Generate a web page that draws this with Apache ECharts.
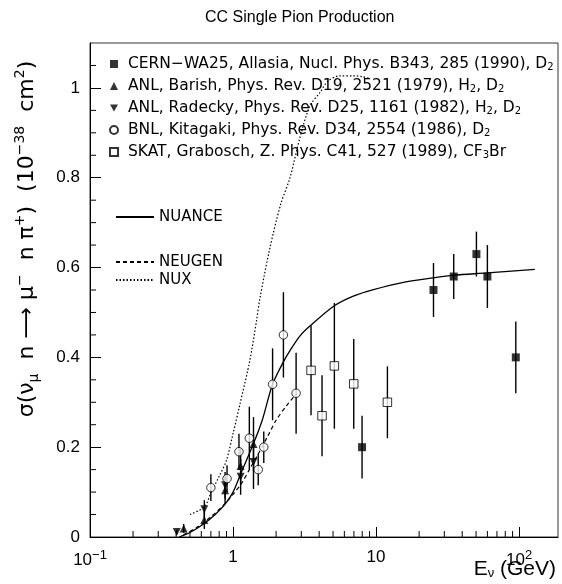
<!DOCTYPE html>
<html>
<head>
<meta charset="utf-8">
<script src="https://cdn.jsdelivr.net/npm/echarts@6/dist/echarts.min.js"></script>
<style>
  html, body { margin: 0; padding: 0; background: #fff; }
  #chart { width: 562px; height: 584px; }
</style>
</head>
<body>
<div id="chart"></div>
<script>
// measured points: energy (GeV), sigma, error
const cernE = [7.98, 25.2, 34.9, 50.3, 60, 94.8];
const cernSigma = [0.20, 0.55, 0.58, 0.63, 0.58, 0.40];
const cernErr = [0.07, 0.06, 0.05, 0.05, 0.07, 0.08];

const barishE = [0.452, 0.63, 0.88, 1.13, 1.39];
const barishSigma = [0.019, 0.038, 0.104, 0.158, 0.207];
const barishErr = [0.01, 0.02, 0.03, 0.04, 0.06];

const radeckyE = [0.404, 0.63, 0.88, 1.13, 1.39];
const radeckySigma = [0.011, 0.062, 0.115, 0.134, 0.167];
const radeckyErr = [0.005, 0.02, 0.03, 0.04, 0.06];

const kitagakiE = [0.70, 0.908, 1.10, 1.30, 1.50, 1.64, 1.89, 2.25, 2.76];
const kitagakiSigma = [0.11, 0.13, 0.19, 0.22, 0.15, 0.20, 0.34, 0.45, 0.32];
const kitagakiErr = [0.03, 0.03, 0.04, 0.07, 0.035, 0.035, 0.08, 0.095, 0.09];

const skatE = [3.51, 4.19, 5.11, 6.98, 12.0];
const skatSigma = [0.371, 0.27, 0.381, 0.341, 0.30];
const skatErr = [0.10, 0.09, 0.14, 0.10, 0.08];

// model curves
const nuanceE = [0.42, 0.5, 0.63, 0.75, 0.88, 1.0, 1.13, 1.39, 1.6, 1.89, 2.25, 2.5, 2.94, 3.51, 5.11, 7, 9.6, 15, 25, 35, 60, 129];
const nuanceSigma = [0.0, 0.01, 0.03, 0.05, 0.073, 0.1, 0.14, 0.208, 0.26, 0.34, 0.39, 0.415, 0.448, 0.472, 0.515, 0.537, 0.551, 0.566, 0.577, 0.583, 0.588, 0.596];

const neugenE = [0.45, 0.55, 0.7, 0.85, 1.0, 1.15, 1.3, 1.5, 1.75, 2.0, 2.4, 2.8];
const neugenSigma = [0.005, 0.02, 0.045, 0.07, 0.095, 0.12, 0.15, 0.185, 0.225, 0.26, 0.295, 0.32];

const nuxE = [0.5, 0.63, 0.7, 0.8, 0.9, 1.0, 1.12, 1.31, 1.46, 1.54, 1.8, 2.15, 2.5, 2.94, 3.45, 4.06, 4.6, 5.6, 6.9, 8, 9.2];
const nuxSigma = [0.05, 0.067, 0.098, 0.135, 0.171, 0.23, 0.297, 0.393, 0.482, 0.531, 0.64, 0.74, 0.80, 0.89, 0.96, 0.99, 1.015, 1.027, 1.027, 1.025, 1.02];

// axis ticks
const xMinorTicks = [0.2, 0.3, 0.4, 0.5, 0.6, 0.7, 0.8, 0.9, 2, 3, 4, 5, 6, 7, 8, 9, 20, 30, 40, 50, 60, 70, 80, 90];
const yMinorTicks = [0.05, 0.1, 0.15, 0.25, 0.3, 0.35, 0.45, 0.5, 0.55, 0.65, 0.7, 0.75, 0.85, 0.9, 0.95, 1.05];
const xTickLabels = { 0.1: '10{sup|−1}', 1: '1', 10: '10', 100: '10{sup|2}' };

const legendLabels = {
  CERN: ' CERN−WA25, Allasia, Nucl. Phys. B343, 285 (1990), D{sub|2}',
  Barish: ' ANL, Barish, Phys. Rev. D19, 2521 (1979), H{sub|2}, D{sub|2}',
  Radecky: ' ANL, Radecky, Phys. Rev. D25, 1161 (1982), H{sub|2}, D{sub|2}',
  Kitagaki: ' BNL, Kitagaki, Phys. Rev. D34, 2554 (1986), D{sub|2}',
  SKAT: ' SKAT, Grabosch, Z. Phys. C41, 527 (1989), CF{sub|3}Br',
};

const font = "'Liberation Sans', Arial, sans-serif";
const wideFont = "'DejaVu Sans', sans-serif";
const downTriangle = 'path://M0,0 L10,0 L5,9 Z';

function points(xs, ys) {
  return xs.map((x, i) => [x, ys[i]]);
}

function bars(xs, ys, es) {
  return xs.map((x, i) => [x, ys[i] - es[i], ys[i] + es[i]]);
}

function errorBarSeries(data) {
  return {
    type: 'custom',
    data,
    z: 2,
    silent: true,
    encode: { x: 0, y: [1, 2] },
    renderItem: (params, api) => {
      const a = api.coord([api.value(0), api.value(1)]);
      const b = api.coord([api.value(0), api.value(2)]);
      return {
        type: 'line',
        shape: { x1: a[0], y1: a[1], x2: b[0], y2: b[1] },
        style: { stroke: '#000', lineWidth: 1.4 },
      };
    },
  };
}

function pointSeries(name, data, symbol, size, open) {
  return {
    name,
    type: 'scatter',
    data,
    symbol,
    symbolSize: size,
    z: 4,
    itemStyle: open
      ? { color: '#fff', borderColor: '#000', borderWidth: 1 }
      : { color: '#000' },
  };
}

function curveSeries(name, data, lineType) {
  return {
    name,
    type: 'line',
    data,
    symbol: 'none',
    smooth: 0.3,
    z: 3,
    itemStyle: { color: '#000' },
    lineStyle: { color: '#000', width: lineType === 'solid' ? 1.3 : 1.2, type: lineType },
  };
}

const chart = echarts.init(document.getElementById('chart'), null, { renderer: 'canvas' });

const option = {
  animation: false,
  backgroundColor: '#fff',
  textStyle: { fontFamily: font },
  title: {
    text: 'CC Single Pion Production',
    left: 200,
    top: 5,
    textStyle: { fontFamily: font, fontSize: 16, fontWeight: 'normal', color: '#000' },
  },
  grid: {
    left: 90,
    top: 43,
    width: 468,
    height: 494,
    show: true,
    borderColor: '#333',
    borderWidth: 1,
  },
  xAxis: {
    type: 'log',
    logBase: 10,
    min: 0.1,
    max: 187,
    splitLine: { show: false },
    axisLine: { lineStyle: { color: '#000', width: 1 } },
    axisTick: { inside: true, length: 10, lineStyle: { color: '#000' } },
    axisLabel: {
      color: '#000',
      fontSize: 17,
      fontFamily: font,
      margin: 12,
      showMaxLabel: false,
      formatter: (v) => xTickLabels[Math.round(v * 10) / 10] || '',
      rich: { sup: { fontSize: 13, verticalAlign: 'top', padding: [0, 0, 10, 0] } },
    },
  },
  yAxis: {
    type: 'value',
    min: 0,
    max: 1.1,
    interval: 0.2,
    splitLine: { show: false },
    axisLine: { lineStyle: { color: '#000', width: 1 } },
    axisTick: { inside: true, length: 11, lineStyle: { color: '#000' } },
    axisLabel: { color: '#000', fontSize: 17, fontFamily: font, margin: 10, showMaxLabel: false },
  },
  legend: [
    {
      data: ['CERN', 'Barish', 'Radecky', 'Kitagaki', 'SKAT'],
      orient: 'vertical',
      left: 104,
      top: 51,
      itemWidth: 8,
      itemHeight: 8,
      itemGap: 6,
      selectedMode: false,
      formatter: (name) => legendLabels[name],
      textStyle: {
        color: '#000',
        fontSize: 15.5,
        fontFamily: wideFont,
        lineHeight: 16,
        rich: { sub: { fontSize: 10, fontFamily: wideFont, verticalAlign: 'bottom', lineHeight: 16, padding: [6, 0, 0, 0] } },
      },
    },
    {
      data: ['NUANCE'],
      orient: 'vertical',
      left: 110,
      top: 204,
      itemWidth: 38,
      itemHeight: 10,
      selectedMode: false,
      itemStyle: { opacity: 0 },
      textStyle: { color: '#000', fontSize: 15, fontFamily: wideFont, lineHeight: 16 },
    },
    {
      data: ['NEUGEN', 'NUX'],
      orient: 'vertical',
      left: 110,
      top: 249,
      itemWidth: 38,
      itemHeight: 10,
      itemGap: 2,
      selectedMode: false,
      itemStyle: { opacity: 0 },
      textStyle: { color: '#000', fontSize: 15, fontFamily: wideFont, lineHeight: 16 },
    },
  ],
  graphic: [
    {
      type: 'text',
      x: 27,
      y: 239,
      rotation: Math.PI / 2,
      style: {
        text: 'σ(ν{sub|μ}  n ⟶ μ{sup|−}  n π{sup|+})  (10{sup|−38}  cm{sup|2})',
        fill: '#000',
        font: '22px ' + wideFont,
        align: 'center',
        verticalAlign: 'middle',
        lineHeight: 28,
        rich: {
          sub: { fontSize: 14, fontFamily: wideFont, verticalAlign: 'bottom', lineHeight: 22, padding: [9, 0, 0, 0] },
          sup: { fontSize: 14, fontFamily: wideFont, verticalAlign: 'top', lineHeight: 22, padding: [0, 0, 11, 0] },
        },
      },
    },
    {
      type: 'text',
      right: 6,
      top: 559,
      style: {
        text: 'E{sub|ν} (GeV)',
        fill: '#000',
        font: '21px ' + font,
        rich: { sub: { fontSize: 13, verticalAlign: 'bottom', padding: [7, 0, 0, 0] } },
      },
    },
  ],
  series: [
    curveSeries('NUANCE', points(nuanceE, nuanceSigma), 'solid'),
    curveSeries('NEUGEN', points(neugenE, neugenSigma), [4, 3]),
    curveSeries('NUX', points(nuxE, nuxSigma), [1.5, 2]),
    errorBarSeries(bars(cernE, cernSigma, cernErr)),
    errorBarSeries(bars(barishE, barishSigma, barishErr)),
    errorBarSeries(bars(radeckyE, radeckySigma, radeckyErr)),
    errorBarSeries(bars(kitagakiE, kitagakiSigma, kitagakiErr)),
    errorBarSeries(bars(skatE, skatSigma, skatErr)),
    pointSeries('CERN', points(cernE, cernSigma), 'rect', 8, false),
    pointSeries('Barish', points(barishE, barishSigma), 'triangle', 8, false),
    pointSeries('Radecky', points(radeckyE, radeckySigma), downTriangle, 8, false),
    pointSeries('Kitagaki', points(kitagakiE, kitagakiSigma), 'circle', 8.5, true),
    pointSeries('SKAT', points(skatE, skatSigma), 'rect', 8.5, true),
    {
      // minor ticks on the log x axis
      type: 'custom',
      data: xMinorTicks.map((v) => [v, 0]),
      silent: true,
      z: 5,
      renderItem: (params, api) => {
        const p = api.coord([api.value(0), 0]);
        return {
          type: 'line',
          shape: { x1: p[0], y1: p[1], x2: p[0], y2: p[1] - 6 },
          style: { stroke: '#000', lineWidth: 1 },
        };
      },
    },
    {
      // minor ticks on the y axis
      type: 'custom',
      data: yMinorTicks.map((v) => [0.1, v]),
      silent: true,
      z: 5,
      renderItem: (params, api) => {
        const p = api.coord([0.1, api.value(1)]);
        return {
          type: 'line',
          shape: { x1: p[0], y1: p[1], x2: p[0] + 6, y2: p[1] },
          style: { stroke: '#000', lineWidth: 1 },
        };
      },
    },
  ],
};

chart.setOption(option);
window.addEventListener('resize', chart.resize);
</script>
</body>
</html>
